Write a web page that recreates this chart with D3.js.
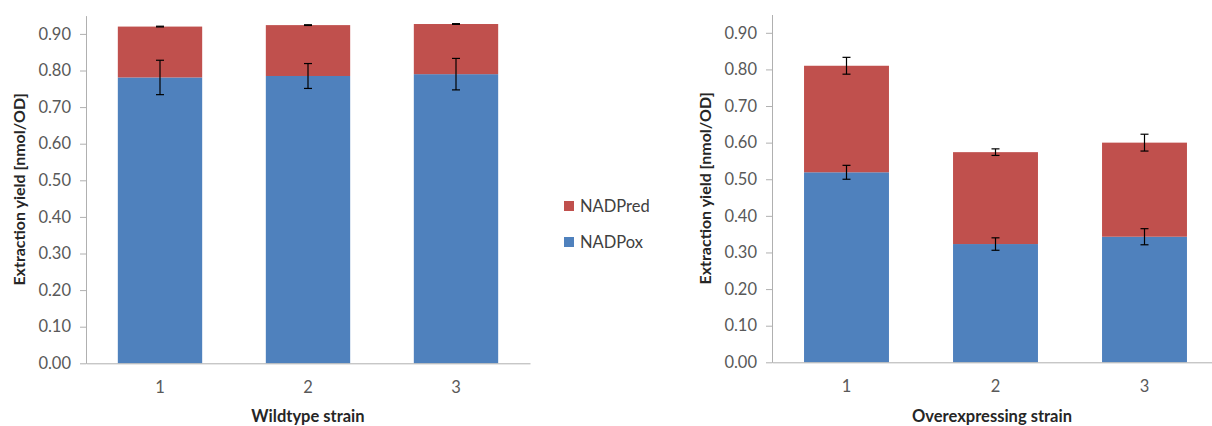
<!DOCTYPE html>
<html>
<head>
<meta charset="utf-8">
<script src="https://cdn.jsdelivr.net/npm/d3@7"></script>
<style>
  body { margin: 0; background: #fff; }
  text { font-family: Lato, "Open Sans", sans-serif; }
</style>
</head>
<body>
<div id="svg-container"></div>
<script>
// data
var strains = ["1", "2", "3"];
var seriesNames = ["NADPred", "NADPox"];
var yTicks = [0, 0.1, 0.2, 0.3, 0.4, 0.5, 0.6, 0.7, 0.8, 0.9];

var wtOx = [0.781, 0.785, 0.790];
var wtOxErr = [0.047, 0.034, 0.043];
var wtRed = [0.139, 0.139, 0.137];
var wtRedErr = [0.001, 0.001, 0.001];

var oeOx = [0.519, 0.323, 0.343];
var oeOxErr = [0.019, 0.017, 0.022];
var oeRed = [0.291, 0.251, 0.257];
var oeRedErr = [0.023, 0.009, 0.023];

var colors = {NADPox: "#4f81bd", NADPred: "#c0504d"};

var svg = d3.select("#svg-container")
  .append("svg")
  .attr("width", 1212)
  .attr("height", 426);

function drawPanel(opt) {
  var x = d3.scaleBand()
    .domain(strains)
    .range([opt.left, opt.right]);
  var y = d3.scaleLinear()
    .domain([0, 0.95])
    .range([opt.bottom, opt.top]);
  var barW = x.bandwidth() * 0.57;

  var g = svg.append("g");

  // bars: ox at bottom, red stacked on top
  var rows = strains.map(function(s, i) {
    return {strain: s, ox: opt.ox[i], oxErr: opt.oxErr[i], red: opt.red[i], redErr: opt.redErr[i]};
  });

  g.selectAll(".ox")
    .data(rows).enter().append("rect")
    .attr("x", d => x(d.strain) + (x.bandwidth() - barW) / 2)
    .attr("y", d => y(d.ox))
    .attr("width", barW)
    .attr("height", d => y(0) - y(d.ox))
    .style("fill", colors.NADPox);

  g.selectAll(".red")
    .data(rows).enter().append("rect")
    .attr("x", d => x(d.strain) + (x.bandwidth() - barW) / 2)
    .attr("y", d => y(d.ox + d.red))
    .attr("width", barW)
    .attr("height", d => y(d.ox) - y(d.ox + d.red))
    .style("fill", colors.NADPred);

  // error bars
  var errs = [];
  rows.forEach(function(d) {
    errs.push({strain: d.strain, v: d.ox, e: d.oxErr});
    errs.push({strain: d.strain, v: d.ox + d.red, e: d.redErr});
  });
  var eg = g.selectAll(".err").data(errs).enter().append("g")
    .attr("stroke", "#000").attr("stroke-width", 1.2);
  var cx = d => x(d.strain) + x.bandwidth() / 2;
  eg.append("line")
    .attr("x1", cx).attr("x2", cx)
    .attr("y1", d => y(d.v - d.e)).attr("y2", d => y(d.v + d.e));
  eg.append("line")
    .attr("x1", d => cx(d) - 4).attr("x2", d => cx(d) + 4)
    .attr("y1", d => y(d.v + d.e)).attr("y2", d => y(d.v + d.e));
  eg.append("line")
    .attr("x1", d => cx(d) - 4).attr("x2", d => cx(d) + 4)
    .attr("y1", d => y(d.v - d.e)).attr("y2", d => y(d.v - d.e));

  // y axis
  var yAxis = g.append("g")
    .attr("transform", "translate(" + opt.left + ",0)")
    .call(d3.axisLeft(y).tickValues(yTicks).tickFormat(d3.format(".2f")).tickSize(6).tickPadding(9).tickSizeOuter(0));
  yAxis.select(".domain").attr("stroke", "#b0b0b0");
  yAxis.selectAll(".tick line").attr("stroke", "#b0b0b0");
  yAxis.selectAll(".tick text")
    .attr("fill", "#595959")
    .style("font-size", "16.5px");

  // x axis
  var xAxis = g.append("g")
    .attr("transform", "translate(0," + opt.bottom + ")")
    .call(d3.axisBottom(x).tickSize(0).tickPadding(18));
  xAxis.select(".domain").attr("stroke", "#b0b0b0");
  xAxis.selectAll(".tick text")
    .attr("fill", "#595959")
    .style("font-size", "16.5px");

  // titles
  g.append("text")
    .attr("x", (opt.left + Math.min(opt.right, 1212)) / 2 + opt.xTitleShift)
    .attr("y", 422)
    .attr("text-anchor", "middle")
    .style("font-size", "16.5px")
    .style("font-weight", "bold")
    .attr("fill", "#262626")
    .text(opt.xTitle);

  g.append("text")
    .attr("transform", "translate(" + opt.yTitleX + "," + ((opt.top + opt.bottom) / 2) + ") rotate(-90)")
    .attr("text-anchor", "middle")
    .style("font-size", "16px")
    .style("font-weight", "bold")
    .attr("fill", "#262626")
    .text("Extraction yield [nmol/OD]");
}

drawPanel({
  left: 86, right: 530, top: 15.6, bottom: 363.3,
  ox: wtOx, oxErr: wtOxErr, red: wtRed, redErr: wtRedErr,
  xTitle: "Wildtype strain", xTitleShift: 0, yTitleX: 25
});

drawPanel({
  left: 772, right: 1219, top: 14.5, bottom: 362.3,
  ox: oeOx, oxErr: oeOxErr, red: oeRed, redErr: oeRedErr,
  xTitle: "Overexpressing strain", xTitleShift: 0, yTitleX: 711
});

// legend
var legend = svg.append("g").attr("transform", "translate(564,201)");
var li = legend.selectAll("g").data(seriesNames).enter().append("g")
  .attr("transform", (d, i) => "translate(0," + (i * 36) + ")");
li.append("rect")
  .attr("width", 10).attr("height", 10)
  .style("fill", d => colors[d]);
li.append("text")
  .attr("x", 16).attr("y", 5)
  .attr("dy", "0.35em")
  .style("font-size", "16.5px")
  .attr("fill", "#404040")
  .text(d => d);
</script>
</body>
</html>
